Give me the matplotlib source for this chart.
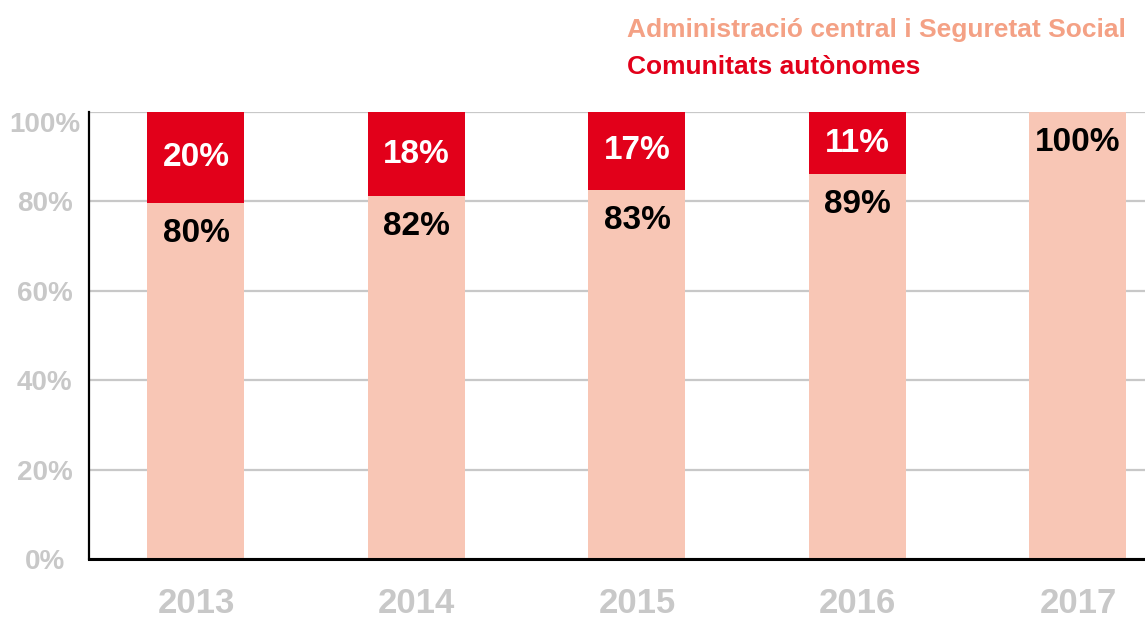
import matplotlib.pyplot as plt

years = ["2013", "2014", "2015", "2016", "2017"]
# heights as drawn (share of Administració central i Seguretat Social)
central = [79.6, 81.2, 82.6, 86.1, 100]
autonom = [100 - v for v in central]
central_labels = ["80%", "82%", "83%", "89%", "100%"]
autonom_labels = ["20%", "18%", "17%", "11%", ""]
yticks = [0, 20, 40, 60, 80, 100]

PINK = "#f8c6b5"
RED = "#e2001a"
PINK_TXT = "#f4a185"
GREY = "#c8c8c8"

plt.rcParams["font.family"] = ["Liberation Sans", "DejaVu Sans"]
plt.rcParams["font.weight"] = "bold"

fig = plt.figure(figsize=(11.45, 6.19), dpi=100)
ax = fig.add_axes([89 / 1145, 1 - 559 / 619, 1 - 89 / 1145, (559 - 112) / 619])

x = range(len(years))
ax.bar(x, central, width=0.44, color=PINK, zorder=2)
ax.bar(x, autonom, width=0.44, bottom=central, color=RED, zorder=2)

for i in x:
    ax.annotate(central_labels[i], (i, central[i]), xytext=(0, -11),
                textcoords="offset points", ha="center", va="top",
                fontsize=24, fontweight="bold", color="black", zorder=3)
    if autonom[i] > 0:
        ax.text(i, central[i] + autonom[i] / 2, autonom_labels[i],
                ha="center", va="center", fontsize=24, fontweight="bold",
                color="white", zorder=3)

ax.set_xlim(-0.485, 4.304)
ax.set_ylim(0, 100)
ax.set_yticks(yticks)
ax.set_yticklabels([f"{t}%" for t in yticks])
ax.set_xticks(list(x))
ax.set_xticklabels(years)
ax.yaxis.grid(True, color=GREY, linewidth=1.6, zorder=0)
ax.set_axisbelow(True)
ax.tick_params(axis="y", length=0, pad=32, labelsize=20, labelcolor=GREY)
ax.tick_params(axis="x", length=0, pad=20, labelsize=25, labelcolor=GREY)
for lab in ax.get_yticklabels():
    lab.set_horizontalalignment("center")
    lab.set_fontweight("bold")
for lab in ax.get_xticklabels():
    lab.set_fontweight("bold")
ax.get_yticklabels()[-1].set_verticalalignment("top")

for s in ["top", "right"]:
    ax.spines[s].set_visible(False)
ax.spines["left"].set_linewidth(1.6)
ax.spines["bottom"].set_linewidth(2.2)
ax.spines["left"].set_zorder(4)
ax.spines["bottom"].set_zorder(4)

fig.text(627 / 1145, 1 - 30 / 619, "Administració central i Seguretat Social",
         ha="left", va="center", fontsize=19, fontweight="bold", color=PINK_TXT)
fig.text(627 / 1145, 1 - 67 / 619, "Comunitats autònomes",
         ha="left", va="center", fontsize=19, fontweight="bold", color=RED)

fig.savefig("out.png", dpi=100)
